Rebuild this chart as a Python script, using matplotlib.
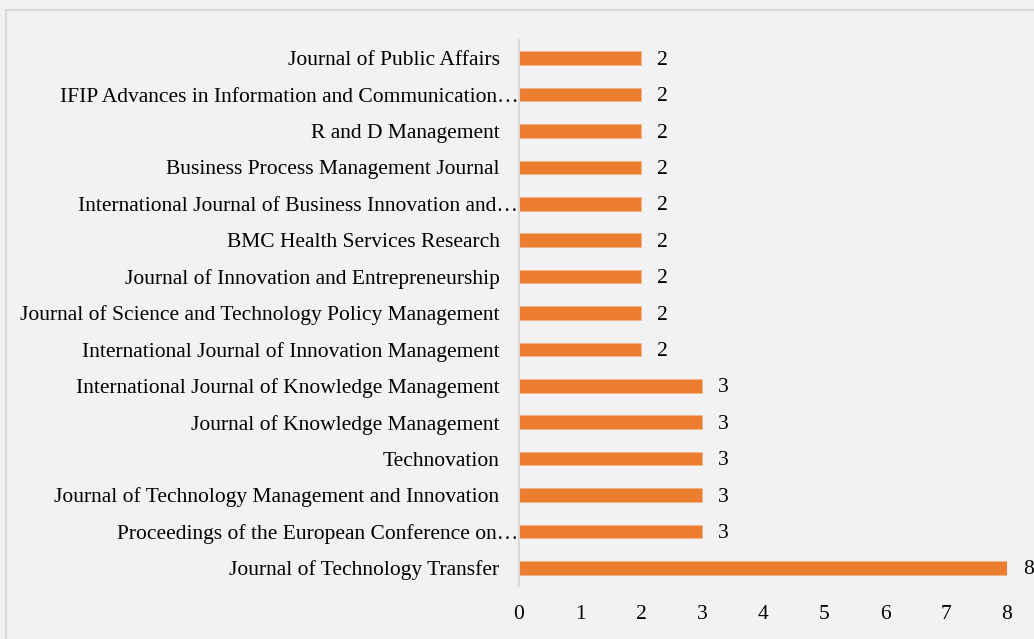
import matplotlib
matplotlib.use('Agg')
import matplotlib.pyplot as plt
import matplotlib.transforms as mtransforms
import numpy as np
from matplotlib.patches import Rectangle

plt.rcParams['font.family'] = ['Liberation Serif', 'DejaVu Serif']

# bottom to top, as drawn
journals = [
    "Journal of Technology Transfer",
    "Proceedings of the European Conference on\u2026",
    "Journal of Technology Management and Innovation",
    "Technovation",
    "Journal of Knowledge Management",
    "International Journal of Knowledge Management",
    "International Journal of Innovation Management",
    "Journal of Science and Technology Policy Management",
    "Journal of Innovation and Entrepreneurship",
    "BMC Health Services Research",
    "International Journal of Business Innovation and\u2026",
    "Business Process Management Journal",
    "R and D Management",
    "IFIP Advances in Information and Communication\u2026",
    "Journal of Public Affairs",
]
counts = [8, 3, 3, 3, 3, 3, 2, 2, 2, 2, 2, 2, 2, 2, 2]
xticks = [0, 1, 2, 3, 4, 5, 6, 7, 8]

FS = 15.5

fig = plt.figure(figsize=(10.34, 6.39), dpi=100)
fig.patch.set_facecolor('#F2F2F2')
fig.patches.append(Rectangle((6 / 1034, -0.01), 1.0, 1 - 10 / 639 + 0.01,
                             transform=fig.transFigure, fill=False,
                             edgecolor='#D9D9D9', lw=1.5))

ax = fig.add_axes([519 / 1034, 1 - 586 / 639, 488 / 1034, 546 / 639])
ax.set_facecolor('#F2F2F2')
y = np.arange(len(journals))
ax.barh(y, counts, height=0.37, color='#ED7D31', edgecolor='#F4B183', lw=0.5)

for yi, c in zip(y, counts):
    ax.annotate(str(c), (c, yi), xytext=(11.5, -1.5), textcoords='offset points',
                ha='left', va='center', fontsize=FS, color='#000000')

ax.set_xlim(0, 8)
ax.set_ylim(-0.5, len(journals) - 0.5)
ax.set_yticks(y)
ax.set_yticklabels(journals)
ax.set_xticks(xticks)
ax.tick_params(axis='both', length=0, labelsize=FS, colors='#000000')
ax.tick_params(axis='y', pad=14)
ax.tick_params(axis='x', pad=14)
for s in ['top', 'right', 'bottom']:
    ax.spines[s].set_visible(False)
ax.spines['left'].set_color('#D9D9D9')
ax.spines['left'].set_linewidth(1.5)

# truncated labels run up to the axis, like the original
shift = mtransforms.ScaledTranslation(13.5 / 72, 0, fig.dpi_scale_trans)
for lab in ax.get_yticklabels():
    if lab.get_text().endswith('\u2026'):
        lab.set_transform(lab.get_transform() + shift)

fig.savefig('out.png', dpi=100, facecolor=fig.get_facecolor())
